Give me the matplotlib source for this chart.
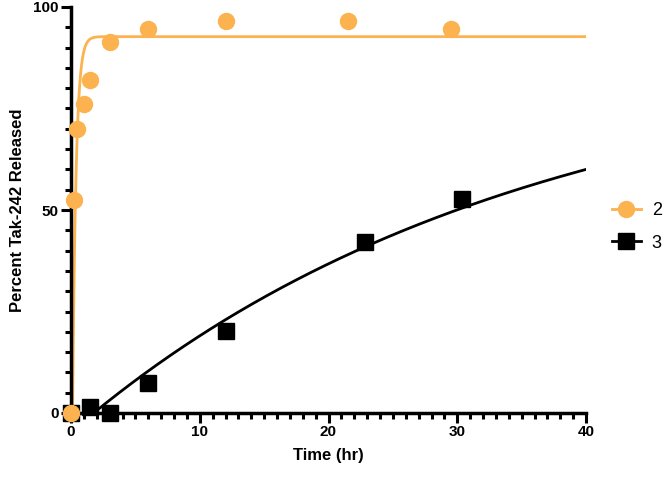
import numpy as np
import matplotlib
matplotlib.use("Agg")
import matplotlib.pyplot as plt
from matplotlib.ticker import MultipleLocator

plt.rcParams['font.family'] = ['Liberation Sans', 'DejaVu Sans']

# Series 2 (orange circles)
t2 = [0, 0.25, 0.5, 1, 1.5, 3, 6, 12, 21.5, 29.5]
y2 = [0, 52.5, 70, 76, 82, 91.5, 94.5, 96.5, 96.5, 94.5]
# Series 3 (black squares)
t3 = [0, 1.5, 3, 6, 12, 22.8, 30.4]
y3 = [0, 1.5, 0, 7.4, 20.2, 42.1, 52.7]

# One-phase association fit parameters (plateau, rate k, lag x0)
fit2 = dict(plateau=92.7, k=3.7, x0=0.12)
fit3 = dict(plateau=89.7, k=0.0289, x0=1.76)

orange = '#FBB24F'

def model(x, plateau, k, x0):
    return np.where(x > x0, plateau * (1 - np.exp(-k * (x - x0))), np.nan)

fig = plt.figure(figsize=(6.66, 4.79), dpi=100)
ax = fig.add_axes([71/666, 1-413/479, 515/666, 406/479])

xs = np.linspace(0, 40, 4000)
ax.plot(xs, model(xs, **fit2), color=orange, lw=2, zorder=2)
ax.plot(xs, model(xs, **fit3), color='black', lw=2, zorder=2)

ax.plot(t3, y3, ls='none', marker='s', ms=11.5, color='black', clip_on=False, zorder=4)
ax.plot(t2, y2, ls='none', marker='o', ms=11.5, color=orange, clip_on=False, zorder=5)

ax.set_xlim(0, 40)
ax.set_ylim(0, 100)
ax.xaxis.set_major_locator(MultipleLocator(10))
ax.xaxis.set_minor_locator(MultipleLocator(1))
ax.yaxis.set_major_locator(MultipleLocator(50))
ax.yaxis.set_minor_locator(MultipleLocator(5))

for s in ['top', 'right']:
    ax.spines[s].set_visible(False)
for s in ['left', 'bottom']:
    ax.spines[s].set_linewidth(2.5)
ax.tick_params(which='major', length=7, width=2.2, direction='out', labelsize=11, pad=2)
ax.tick_params(which='minor', length=4.5, width=2.2, direction='out')
for lab in ax.get_xticklabels() + ax.get_yticklabels():
    lab.set_fontweight('bold')

ax.set_xlabel('Time (hr)', fontsize=12, fontweight='bold', labelpad=6)
ax.set_ylabel('Percent Tak-242 Released', fontsize=12, fontweight='bold', labelpad=6)

h2, = ax.plot([], [], color=orange, marker='o', ms=11.5, lw=2)
h3, = ax.plot([], [], color='black', marker='s', ms=11.5, lw=2)
fig.legend([h2, h3], ['2', '3'], loc='center left', bbox_to_anchor=(612/666, 1-227/479),
           frameon=False, fontsize=13, handlelength=1.6, labelspacing=0.85, handletextpad=0.6,
           borderaxespad=0, borderpad=0)

fig.savefig('out.png', dpi=100)
